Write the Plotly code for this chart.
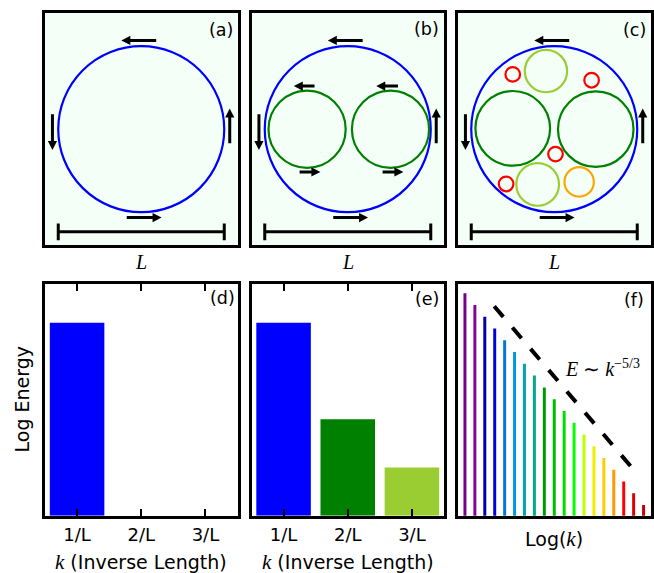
import plotly.graph_objects as go

W, H = 654, 573

# ---------------- data ----------------
K_POS = [1, 2, 3]
K_LABELS = ["1/L", "2/L", "3/L"]
ENERGY_D = [1.0]
ENERGY_E = [1.0, 0.5, 0.25]
COLORS_D = ["#0000ff"]
COLORS_E = ["#0000ff", "#008000", "#9acd32"]

SPEC_K = list(range(1, 20))
SPEC_E = [19, 18, 17, 16, 15, 14, 13, 12, 11, 10, 9, 8, 7, 6, 5, 4, 3, 2, 1]
SPEC_COLORS = ["#770088", "#880099", "#0000aa", "#0000dd", "#0077dd", "#0099dd",
               "#00aaaa", "#00aa88", "#009900", "#00bb00", "#00dd00", "#00ff00",
               "#bbff00", "#eeee00", "#ffcc00", "#ff9900", "#ff0000", "#dd0000",
               "#cc0000"]
SLOPE_X = [3.95, 17.85]
SLOPE_Y = [17.9, 4.15]

# eddies, in units of the large-eddy radius (cx, cy, r)
BIG_EDDY = [(0.0, 0.0, 1.0)]
MID_B = [(-0.49, 0.0, 0.465), (0.515, 0.0, 0.465)]
MID_C = [(-0.50, 0.01, 0.45), (0.50, 0.0, 0.455)]
LIGHT_C = [(-0.10, 0.70, 0.255), (-0.20, -0.665, 0.257)]
ORANGE_C = [(0.30, -0.635, 0.177)]
RED_C = [(-0.50, 0.66, 0.088), (0.45, 0.59, 0.088), (0.015, -0.30, 0.088), (-0.58, -0.66, 0.088)]

# arrows: (tail, head)
BIG_ARROWS = [((0.18, 1.07), (-0.24, 1.07)),
              ((-1.07, 0.18), (-1.07, -0.25)),
              ((-0.175, -1.065), (0.245, -1.065)),
              ((1.066, -0.17), (1.066, 0.25))]
SMALL_ARROWS_B = [((-0.40, 0.52), (-0.65, 0.52)),
                  ((-0.58, -0.515), (-0.33, -0.515)),
                  ((0.605, 0.52), (0.343, 0.52)),
                  ((0.42, -0.515), (0.67, -0.515))]
SCALE_BAR_X = [-1.0, 1.0]
SCALE_BAR_Y = -1.237
SCALE_CAP = 0.1

PANEL_LABELS = ["(a)", "(b)", "(c)", "(d)", "(e)", "(f)"]

# ---------------- layout geometry (pixels) ----------------
COLS = [(45, 237.5), (251.5, 444), (458, 650.5)]
ROWS = [(13.2, 245.2), (284, 515.8)]
PX_PER_UNIT = 83.0

def xdom(c):
    return [c[0] / W, c[1] / W]

def ydom(r):
    return [1 - r[1] / H, 1 - r[0] / H]

fig = go.Figure()

frame = dict(showline=True, linewidth=3, linecolor="black", mirror=True,
             showgrid=False, zeroline=False, ticks="", showticklabels=False)

layout = {}
for i in range(6):
    n = i + 1
    c = COLS[i % 3]
    r = ROWS[i // 3]
    xa = dict(frame, domain=xdom(c), anchor="y%d" % n if n > 1 else "y")
    ya = dict(frame, domain=ydom(r), anchor="x%d" % n if n > 1 else "x")
    if i < 3:
        hx = (c[1] - c[0]) / 2 / PX_PER_UNIT
        hy = (r[1] - r[0]) / 2 / PX_PER_UNIT
        xa["range"] = [-hx, hx]
        ya["range"] = [-hy, hy]
    layout["xaxis" if n == 1 else "xaxis%d" % n] = xa
    layout["yaxis" if n == 1 else "yaxis%d" % n] = ya

# bottom axes
for n in (4, 5):
    layout["xaxis%d" % n].update(range=[0.5, 3.5], tickvals=K_POS, ticktext=K_LABELS,
                                 ticks="inside", ticklen=7, tickwidth=2, tickcolor="black",
                                 mirror="ticks", showticklabels=True, ticklabelstandoff=1,
                                 tickfont=dict(family="DejaVu Sans", size=18, color="black"))
    layout["yaxis%d" % n].update(range=[0, 1.2])
layout["xaxis6"].update(range=[0.3, 19.7])
layout["yaxis6"].update(range=[0.08, 19.79])

fig.update_layout(**layout)

def ax(n):
    return ("x", "y") if n == 1 else ("x%d" % n, "y%d" % n)

# dummy traces to host top panels
for n in (1, 2, 3):
    xr, yr = ax(n)
    fig.add_trace(go.Scatter(x=[0], y=[0], mode="markers", marker=dict(opacity=0),
                             xaxis=xr, yaxis=yr, hoverinfo="skip", showlegend=False))

# bars
fig.add_trace(go.Bar(x=K_POS[:1], y=ENERGY_D, width=0.85, marker=dict(color=COLORS_D, line=dict(width=0)),
                     xaxis="x4", yaxis="y4", showlegend=False))
fig.add_trace(go.Bar(x=K_POS, y=ENERGY_E, width=0.85, marker=dict(color=COLORS_E, line=dict(width=0)),
                     xaxis="x5", yaxis="y5", showlegend=False))
fig.add_trace(go.Bar(x=SPEC_K, y=SPEC_E, width=0.3, marker=dict(color=SPEC_COLORS, line=dict(width=0)),
                     xaxis="x6", yaxis="y6", showlegend=False))
fig.add_trace(go.Scatter(x=SLOPE_X, y=SLOPE_Y, mode="lines",
                         line=dict(color="black", width=4, dash="14px,14px"),
                         xaxis="x6", yaxis="y6", showlegend=False))

shapes = []
# mint backgrounds
for n in (1, 2, 3):
    xr, yr = ax(n)
    shapes.append(dict(type="rect", xref=xr + " domain", yref=yr + " domain", x0=0, x1=1, y0=0, y1=1,
                       fillcolor="#f3fff7", line=dict(width=0), layer="below"))

def circles(n, lst, color):
    xr, yr = ax(n)
    for cx, cy, rr in lst:
        shapes.append(dict(type="circle", xref=xr, yref=yr, x0=cx - rr, x1=cx + rr,
                           y0=cy - rr, y1=cy + rr, line=dict(color=color, width=2.2)))

HL = 9.0 / PX_PER_UNIT
HW = 4.6 / PX_PER_UNIT

def arrows(n, lst):
    xr, yr = ax(n)
    for (tx, ty), (hx, hy) in lst:
        dx, dy = hx - tx, hy - ty
        ln = (dx * dx + dy * dy) ** 0.5
        ux, uy = dx / ln, dy / ln
        bx, by = hx - ux * HL, hy - uy * HL
        px, py = -uy, ux
        shapes.append(dict(type="line", xref=xr, yref=yr, x0=tx, y0=ty, x1=bx + ux * 0.01, y1=by + uy * 0.01,
                           line=dict(color="black", width=3)))
        path = "M %f,%f L %f,%f L %f,%f Z" % (hx, hy, bx + px * HW, by + py * HW, bx - px * HW, by - py * HW)
        shapes.append(dict(type="path", xref=xr, yref=yr, path=path, fillcolor="black",
                           line=dict(width=0)))

def scale_bar(n):
    xr, yr = ax(n)
    shapes.append(dict(type="line", xref=xr, yref=yr, x0=SCALE_BAR_X[0], x1=SCALE_BAR_X[1],
                       y0=SCALE_BAR_Y, y1=SCALE_BAR_Y, line=dict(color="black", width=3)))
    for xv in SCALE_BAR_X:
        shapes.append(dict(type="line", xref=xr, yref=yr, x0=xv, x1=xv,
                           y0=SCALE_BAR_Y - SCALE_CAP, y1=SCALE_BAR_Y + SCALE_CAP,
                           line=dict(color="black", width=3)))

for n in (1, 2, 3):
    circles(n, BIG_EDDY, "#0000ff")
    arrows(n, BIG_ARROWS)
    scale_bar(n)
circles(2, MID_B, "#008000")
arrows(2, SMALL_ARROWS_B)
circles(3, MID_C, "#008000")
circles(3, LIGHT_C, "#9acd32")
circles(3, ORANGE_C, "#ffa500")
circles(3, RED_C, "#ff0000")

fig.update_layout(shapes=shapes)

ann = []
SANS = "DejaVu Sans"
SERIF = "Liberation Serif"
label_y = [29.8, 29.2, 30.0, 298.3, 299.0, 299.7]
label_r = [233.8, 439.8, 646.5, 235.5, 439.8, 644.8]
for i, t in enumerate(PANEL_LABELS):
    ann.append(dict(text=t, x=label_r[i] / W, y=1 - label_y[i] / H, xref="paper", yref="paper",
                    xanchor="right", yanchor="middle", showarrow=False, borderpad=0,
                    font=dict(family=SANS, size=17.5, color="black")))
for c in COLS:
    ann.append(dict(text="<i>L</i>", x=(c[0] + c[1]) / 2 / W, y=1 - 261.5 / H, xref="paper", yref="paper",
                    xanchor="center", yanchor="middle", showarrow=False, borderpad=0,
                    font=dict(family=SERIF, size=20, color="black")))
for c in COLS[:2]:
    ann.append(dict(text="<span style='font-family:Liberation Serif;font-size:21px'><i>k</i></span> (Inverse Length)",
                    x=(c[0] + c[1]) / 2 / W, y=1 - 562 / H, xref="paper", yref="paper",
                    xanchor="center", yanchor="middle", showarrow=False, borderpad=0,
                    font=dict(family=SANS, size=19, color="black")))
ann.append(dict(text="Log(<span style='font-family:Liberation Serif;font-size:21px'><i>k</i></span>)",
                x=553.5 / W, y=1 - 539 / H, xref="paper", yref="paper",
                xanchor="center", yanchor="middle", showarrow=False, borderpad=0,
                font=dict(family=SANS, size=19, color="black")))
ann.append(dict(text="Log Energy", x=21.5 / W, y=1 - 399 / H, xref="paper", yref="paper",
                xanchor="center", yanchor="middle", textangle=-90, showarrow=False, borderpad=0,
                font=dict(family=SANS, size=19, color="black")))
ann.append(dict(text="<i>E</i> ∼ <i>k</i><sup>−5/3</sup>", x=564 / W, y=1 - 368 / H, xref="paper", yref="paper",
                xanchor="left", yanchor="middle", showarrow=False, borderpad=0,
                font=dict(family=SERIF, size=20, color="black")))
fig.update_layout(annotations=ann)

fig.update_layout(width=W, height=H, margin=dict(l=0, r=0, t=0, b=0),
                  paper_bgcolor="white", plot_bgcolor="white", showlegend=False)

fig.write_html("out.html", config={"displayModeBar": False},
               post_script="document.body.style.margin='0px';document.body.style.overflow='hidden';")
